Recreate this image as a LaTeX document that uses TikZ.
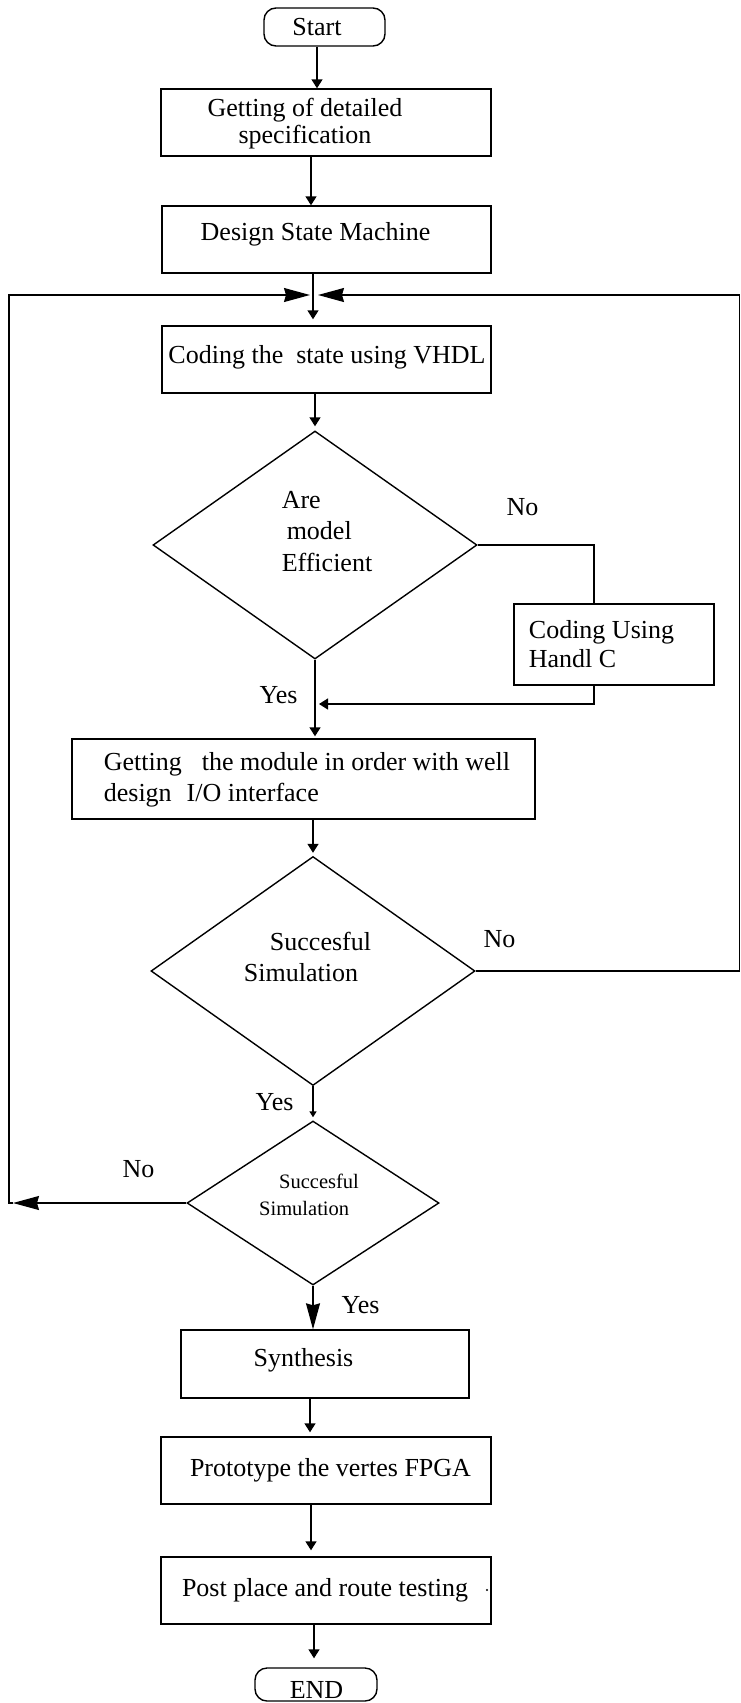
\documentclass[tikz,border=0pt]{standalone}
\usepackage{fontspec}
\setmainfont{Liberation Serif}
\usetikzlibrary{arrows.meta,shapes.geometric}
% #1 horizontal shift of text centre, #2 raise of first baseline above node centre, #3 column alignment, #4 text
\newcommand{\tb}[4]{\hspace*{#1pt}\hspace*{#1pt}\raisebox{#2pt}[0pt][0pt]{\begin{tabular}[t]{@{}#3@{}}#4\end{tabular}}}
\begin{document}
\begin{tikzpicture}[x=1pt,y=-1pt,line width=1.4pt,
  font=\fontsize{26}{31}\selectfont,
  box/.style={draw,rectangle,inner sep=0pt},
  term/.style={draw,rectangle,rounded corners=12pt,inner sep=0pt},
  dec/.style={draw,diamond,inner sep=0pt,aspect=1.4},
  lbl/.style={anchor=base west,inner sep=0pt},
  arr/.style={-{Triangle[length=9pt,width=11pt]}},
  big/.style={-{Stealth[length=26pt,width=14pt,inset=2pt]}}]
\fill[white] (0,0) rectangle (741,1703);
\useasboundingbox (0,0) rectangle (741,1703);

% nodes
\node[term,minimum width=121pt,minimum height=38pt] (start) at (324.5,27) {\tb{-7.5}{-8}{c}{Start}};
\node[box,minimum width=330pt,minimum height=67pt] (b2) at (326,122.5) {\def\arraystretch{0.9}\tb{-21}{6.5}{c}{Getting of detailed\\specification}};
\node[box,minimum width=329pt,minimum height=67pt] (b3) at (326.5,239.5) {\tb{-11}{-0.5}{c}{Design State Machine}};
\node[box,minimum width=329pt,minimum height=67pt] (b4) at (326.5,359.5) {\tb{0.5}{-3.5}{c}{Coding the~ state using VHDL}};
\node[dec,minimum width=324pt,minimum height=228pt] (d1) at (315,545) {\def\arraystretch{1.03}\tb{12}{37}{l}{Are\\\hspace*{5pt}model\\Efficient}};
\node[box,minimum width=200pt,minimum height=81pt] (b5) at (614,644.5) {\def\arraystretch{0.94}\tb{-12.5}{6.5}{l}{Coding Using\\Handl C}};
\node[box,minimum width=463pt,minimum height=80pt] (b6) at (303.5,779) {\def\arraystretch{1.02}\tb{3.5}{9}{l}{Getting\hspace{20pt}the module in order with well\\design\hspace{15pt}I/O interface}};
\node[dec,minimum width=324pt,minimum height=229pt] (d2) at (313,971) {\def\arraystretch{1.03}\tb{-5.5}{21}{l}{\hspace*{26pt}Succesful\\Simulation}};
\node[dec,minimum width=252pt,minimum height=164pt,font=\fontsize{20.5}{27}\selectfont] (d3) at (313,1203) {\tb{-4}{15}{l}{\hspace*{20pt}Succesful\\Simulation}};
\node[box,minimum width=288pt,minimum height=68pt] (b7) at (325,1364) {\tb{-21.5}{-2}{c}{Synthesis}};
\node[box,minimum width=330pt,minimum height=67pt] (b8) at (326,1470.5) {\tb{4.5}{-6}{c}{Prototype the vertes FPGA}};
\node[box,minimum width=330pt,minimum height=67pt] (b9) at (326,1590.5) {\tb{-1}{-6}{c}{Post place and route testing}};
\node[term,minimum width=122pt,minimum height=33pt] (end) at (316,1684.5) {\tb{0.5}{-13.5}{c}{END}};
\fill (487,1590) circle (1.1pt);

% labels
\node[lbl] (no1) at (506,515) {No};
\node[lbl] (yes1) at (259,703) {Yes};
\node[lbl] (no2) at (483,947) {No};
\node[lbl] (yes2) at (255,1110) {Yes};
\node[lbl] (no3) at (122,1177) {No};
\node[lbl] (yes3) at (341,1313) {Yes};

% helper coordinates
\coordinate (x9) at (9,0);
\coordinate (x13) at (13,0);
\coordinate (x310) at (310,0);
\coordinate (x311) at (311,0);
\coordinate (x313) at (313,0);
\coordinate (x314) at (314,0);
\coordinate (x317) at (317,0);
\coordinate (x318) at (318,0);
\coordinate (x319) at (319,0);
\coordinate (x594) at (594,0);
\coordinate (xR) at (739.5,0);
\coordinate (ytop) at (0,295);
\coordinate (y704) at (0,704);

% main flow
\draw[arr] (start.south -| x317) -- (b2.north -| x317);
\draw[arr] (b2.south -| x311) -- (b3.north -| x311);
\draw[arr,shorten >=6pt] (b3.south -| x313) -- (b4.north -| x313);
\draw[arr,shorten >=4pt] (b4.south -| d1.north) -- (d1.north);
\draw (d1.east) -- (d1.east -| x594) -- (b5.north -| x594);
\draw[arr] (b5.south -| x594) -- (x594 |- y704) -- (x319 |- y704);
\draw[arr,shorten >=2pt] (d1.south) -- (d1.south |- b6.north);
\draw[arr,shorten >=3pt] (b6.south -| d2.north) -- (d2.north);
\draw[-{Triangle[length=6pt,width=7pt]},shorten >=3pt] (d2.south) -- (d3.north);
\draw[big] (d3.south) -- (d3.south |- b7.north);
\draw[arr,shorten >=4pt] (b7.south -| x310) -- (b8.north -| x310);
\draw[arr,shorten >=6pt] (b8.south -| x311) -- (b9.north -| x311);
\draw[arr,shorten >=9pt] (b9.south -| x314) -- (end.north -| x314);

% feedback loops
\draw[big] (d2.east) -- (d2.east -| xR) -- (xR |- ytop) -- (x318 |- ytop);
\draw[big] (d3.west) -- (x13 |- d3.west);
\draw[big] (x13 |- d3.west) -- (x9 |- d3.west) -- (x9 |- ytop) -- (x310 |- ytop);
\end{tikzpicture}
\end{document}
